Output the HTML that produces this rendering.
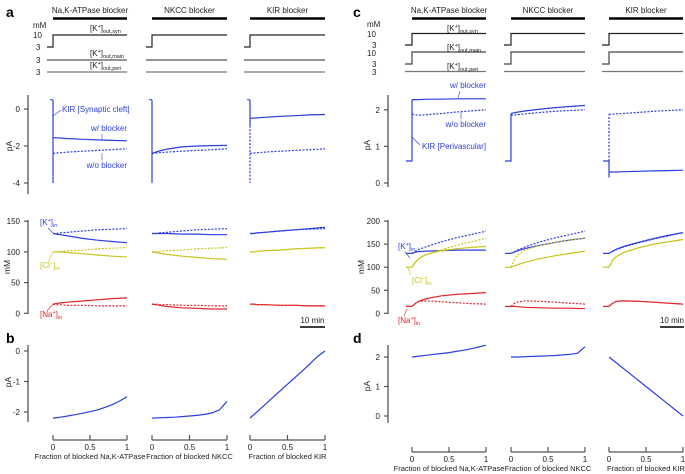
<!DOCTYPE html>
<html><head><meta charset="utf-8">
<style>
html,body{margin:0;padding:0;background:#fff;}
svg{display:block;font-family:"Liberation Sans",sans-serif;}
</style></head>
<body>
<svg id="fig" width="685" height="474" viewBox="0 0 685 474" xmlns="http://www.w3.org/2000/svg"></svg>
<script>
// ---------- data ----------
const timeFrac = [0,0.05,0.1,0.2,0.4,0.6,0.8,1];
const colTitles = ["Na,K-ATPase blocker","NKCC blocker","KIR blocker"];
const xTitles = ["Fraction of blocked Na,K-ATPase","Fraction of blocked NKCC","Fraction of blocked KIR"];
// panel a currents (pA)
const aCurSolid = [[-1.55,-1.56,-1.57,-1.6,-1.64,-1.67,-1.7,-1.72],[-2.4,-2.33,-2.27,-2.17,-2.05,-2.0,-1.98,-1.97],[-0.5,-0.49,-0.48,-0.45,-0.4,-0.36,-0.32,-0.3]];
const aCurDash = [[-2.4,-2.38,-2.36,-2.33,-2.28,-2.24,-2.2,-2.15],[-2.4,-2.38,-2.36,-2.33,-2.28,-2.24,-2.2,-2.15],[-2.4,-2.38,-2.36,-2.33,-2.28,-2.24,-2.2,-2.15]];
// panel c currents (pA)
const cCurSolid = [[2.28,2.28,2.28,2.29,2.29,2.3,2.3,2.3],[1.9,1.92,1.94,1.97,2.02,2.06,2.09,2.12],[0.3,0.3,0.3,0.31,0.32,0.33,0.34,0.35]];
const cCurDash = [[1.88,1.86,1.85,1.87,1.9,1.94,1.97,2.0],[1.85,1.86,1.87,1.89,1.93,1.96,1.98,2.0],[1.88,1.88,1.89,1.9,1.93,1.96,1.98,2.0]];
// panel a concentrations (mM)
const aKSolid = [[130,129,128,126,122,119,117,115],[130,130,130,130,129,129,128,128],[130,130,131,132,134,136,138,140]];
const aKDash = [[130,130,131,132,134,136,137,138],[130,130,131,132,134,136,137,138],[130,130,131,132,134,136,137,138]];
const aClSolid = [[100,100,100,99,97,95,93,92],[100,99,98,96,93,91,89,88],[100,100,101,102,103,105,106,107]];
const aClDash = [[100,100,101,102,103,105,106,107],[100,100,101,102,103,105,106,107],[100,100,101,102,103,105,106,107]];
const aNaSolid = [[15,16,17,18,20,22,24,25],[15,14,13,11,9,8,7,7],[15,15,14,14,13,13,12,12]];
const aNaDash = [[15,14,14,13,13,12,12,12],[15,15,14,14,13,13,12,12],[15,15,14,14,13,13,12,12]];
// panel c concentrations (mM)
const cKSolid = [[130,133,134,135,136,137,137,137],[130,133,136,141,148,154,159,163],[130,135,139,145,154,162,169,175]];
const cKDash = [[130,135,139,145,155,164,171,178],[130,134,138,145,155,164,171,178],[130,134,138,144,153,161,168,175]];
const cClSolid = [[100,112,120,128,136,140,143,145],[100,103,106,111,119,125,130,135],[100,115,123,132,142,150,155,160]];
const cClDash = [[100,112,120,128,138,147,155,163],[100,118,128,138,148,154,159,163],[100,115,123,132,142,150,155,160]];
const cNaSolid = [[15,22,27,32,38,41,43,45],[15,15,14,13,12,11,11,10],[15,22,26,27,26,24,22,20]];
const cNaDash = [[15,22,26,27,25,23,21,20],[15,22,25,27,26,24,22,20],[15,22,26,27,26,24,22,20]];
// panels b/d: current vs fraction blocked
const fracX = [0,0.1,0.2,0.3,0.4,0.5,0.6,0.7,0.8,0.9,1];
const bVals = [[-2.2,-2.17,-2.13,-2.09,-2.04,-1.99,-1.93,-1.85,-1.76,-1.64,-1.5],[-2.2,-2.19,-2.18,-2.17,-2.15,-2.13,-2.11,-2.08,-2.03,-1.93,-1.65],[-2.2,-1.98,-1.76,-1.53,-1.31,-1.09,-0.87,-0.65,-0.42,-0.18,0]];
const dVals = [[2.0,2.03,2.06,2.09,2.12,2.15,2.19,2.23,2.28,2.34,2.4],[2.0,2.0,2.01,2.02,2.03,2.04,2.05,2.07,2.09,2.13,2.35],[2.0,1.8,1.6,1.4,1.2,1.0,0.8,0.6,0.4,0.2,0]];
const aCurTicks = [0,-2,-4], cCurTicks=[0,1,2], aConcTicks=[0,50,100,150], cConcTicks=[0,50,100,150,200];
const bTicks=[0,-1,-2], dTicks=[0,1,2], fracTicks=[0,0.5,1];

// ---------- helpers ----------
const S = document.getElementById('fig');
const NS = "http://www.w3.org/2000/svg";
const BLUE="#2b3ee0", YEL="#c9c41c", RED="#e0262a", AX="#555";
function el(tag, attrs, parent){ const e=document.createElementNS(NS,tag); for(const k in attrs) e.setAttribute(k,attrs[k]); (parent||S).appendChild(e); return e; }
function line(x1,y1,x2,y2,c,w,name){ const e=el('line',{x1,y1,x2,y2,stroke:c,'stroke-width':w});

 return e; }
function poly(pts,c,dash,name,w){ const e=el('polyline',{points:pts.map(p=>p[0].toFixed(1)+','+p[1].toFixed(1)).join(' '),fill:'none',stroke:c,'stroke-width':w||1.2});
if(dash) e.setAttribute('stroke-dasharray','2,1.5');

 return e; }
function text(x,y,s,size,anchor,fill,name,extra){ const e=el('text',{x,y,'font-size':size,'text-anchor':anchor||'start',fill:fill||'#222'}); e.textContent=s;


if(extra) for(const k in extra) e.setAttribute(k,extra[k]); return e; }
function ionLabel(x,y,base,sup,fill,name){ const e=el('text',{x,y,'font-size':8,fill});


e.appendChild(document.createTextNode(base.split('|')[0]));
const t1=el('tspan',{'font-size':5.5,dy:-3},e); t1.textContent=sup;
const t2=el('tspan',{dy:3},e); t2.textContent=base.split('|')[1];
const t3=el('tspan',{'font-size':5.5,dy:2},e); t3.textContent='in';
return e; }
function kout(x,y,sub,name){ const e=el('text',{x,y,'font-size':8,fill:'#222'});


e.appendChild(document.createTextNode('[K'));
const a=el('tspan',{'font-size':5.5,dy:-3},e); a.textContent='+';
const b=el('tspan',{dy:3},e); b.textContent=']';
const c=el('tspan',{'font-size':5.5,dy:2},e); c.textContent=sub; return e; }
function yAxis(x,yTop,yBot,ticks,scale,name){ line(x,yTop,x,yBot,AX,1.3,name);
ticks.forEach(v=>{ const y=scale(v); line(x-4,y,x,y,AX,1.2,name+'-tick'); text(x-8,y+3,String(v),8,'end','#222',name+'-label'); }); }
function series(x0,x1,vals,sy,c,dash,name){ return poly(vals.map((v,i)=>[x0+timeFrac[i]*(x1-x0),sy(v)]),c,dash,name); }

// ---------- layout ----------
const aCols=[[53,127],[152,227],[250,325]];
const cCols=[[412,486],[511,585],[609,683]];
const aCurY=v=>109-(v)*18.5;
const cCurY=v=>183-v*36.6;
const aConcY=v=>313.3-v*0.614;
const cConcY=v=>313.3-v*0.461;
const bY=v=>351-v*30.5;
const dY=v=>416-v*29.5;

// panel letters
text(6,17,'a',14,'start','#000','panel-letter-a',{'font-weight':'bold'});
text(6,343,'b',14,'start','#000','panel-letter-b',{'font-weight':'bold'});
text(353,17,'c',14,'start','#000','panel-letter-c',{'font-weight':'bold'});
text(353,343,'d',14,'start','#000','panel-letter-d',{'font-weight':'bold'});

function headers(cols,pre){
cols.forEach((c,i)=>{ line(c[0],18.5,c[1],18.5,'#000',2.5,pre+'-header-bar-'+i);
text((c[0]+c[1])/2,13,colTitles[i],8,'middle','#222',pre+'-header-title-'+i); });
}
headers(aCols,'a'); headers(cCols,'c');

// panel a stimulus traces
text(33,28,'mM',8,'start','#222','a-stim-unit');
text(33,38,'10',8,'start','#222','a-stim-10');
text(36,50,'3',8,'start','#222','a-stim-3a');
text(36,63,'3',8,'start','#222','a-stim-3b');
text(36,75,'3',8,'start','#222','a-stim-3c');
aCols.forEach((c,i)=>{
 const x0=c[0]-(i==0?6:6);
 poly([[x0,47],[c[0],47],[c[0],35],[c[1],35]],'#222',false,'a-kout-syn-trace-'+i,1.2);
 line(i==0?47:x0,60,c[1],60,'#555',1.2,'a-kout-main-trace-'+i);
 line(i==0?47:x0,72,c[1],72,'#777',1.2,'a-kout-peri-trace-'+i);
});
kout(90,31,'out,syn','a-kout-syn-label');
kout(90,56,'out,main','a-kout-main-label');
kout(90,68,'out,peri','a-kout-peri-label');

// panel c stimulus traces
text(367,27,'mM',8,'start','#222','c-stim-unit');
text(367,37,'10',8,'start','#222','c-stim-10a');
text(372,48,'3',8,'start','#222','c-stim-3a');
text(367,56,'10',8,'start','#222','c-stim-10b');
text(372,67,'3',8,'start','#222','c-stim-3b');
text(372,75,'3',8,'start','#222','c-stim-3c');
cCols.forEach((c,i)=>{
 const x0=c[0]-7;
 poly([[x0,45],[c[0],45],[c[0],33.5],[c[1],33.5]],'#222',false,'c-kout-syn-trace-'+i,1.2);
 poly([[x0,64],[c[0],64],[c[0],52],[c[1],52]],'#444',false,'c-kout-main-trace-'+i,1.2);
 line(i==0?405:x0,71.5,c[1],71.5,'#777',1.2,'c-kout-peri-trace-'+i);
});
kout(447,31,'out,syn','c-kout-syn-label');
kout(447,50,'out,main','c-kout-main-label');
kout(447,69,'out,peri','c-kout-peri-label');

// ---------- panel a currents ----------
yAxis(28,95,194,aCurTicks,aCurY,'a-current-y-axis');
text(12,146,'pA',8.5,'middle','#222','a-current-y-title',{transform:'rotate(-90 12 146)'});
aCols.forEach((c,i)=>{
 line(c[0]-3,aCurY(0.5),c[0],aCurY(0.5),BLUE,1,'a-current-bracket-'+i);
 if(i<2){ line(c[0],aCurY(0.5),c[0],aCurY(-4),BLUE,1.2,'a-current-transient-'+i); }
 else { line(c[0],aCurY(0.5),c[0],aCurY(-0.9),BLUE,1.2,'a-current-transient-'+i);
        const d=line(c[0],aCurY(-0.9),c[0],aCurY(-4),BLUE,1.2,'a-current-transient-dashed'); d.setAttribute('stroke-dasharray','2,1.5'); }
 series(c[0],c[1],aCurSolid[i],aCurY,BLUE,false,'a-current-with-blocker-'+i);
 series(c[0],c[1],aCurDash[i],aCurY,BLUE,true,'a-current-without-blocker-'+i);
});
text(62,112,'KIR [Synaptic cleft]',8,'start',BLUE,'a-kir-label');
line(53,116,61,110,BLUE,0.6,'a-kir-leader');
text(127,131,'w/ blocker',8,'end',BLUE,'a-with-blocker-label');
line(102,134,102,140,BLUE,0.6,'a-with-leader');
text(127,168,'w/o blocker',8,'end',BLUE,'a-without-blocker-label');
line(102,153,102,160,BLUE,0.6,'a-without-leader');

// ---------- panel c currents ----------
yAxis(388,95,187,cCurTicks,cCurY,'c-current-y-axis');
text(370,145,'pA',8.5,'middle','#222','c-current-y-title',{transform:'rotate(-90 370 145)'});
cCols.forEach((c,i)=>{
 const pre=[[c[0]-6,cCurY(0.6)],[c[0],cCurY(0.6)]];
 if(i<2){
  poly(pre.concat([[c[0],cCurY(cCurSolid[i][0])]]),BLUE,false,'c-current-onset-'+i);
 } else {
  poly(pre.concat([[c[0],cCurY(0.15)],[c[0],cCurY(0.3)]]),BLUE,false,'c-current-onset-'+i);
  const d=line(c[0],cCurY(0.6),c[0],cCurY(cCurDash[i][0]),BLUE,1.2,'c-current-onset-dashed'); d.setAttribute('stroke-dasharray','2,1.5');
 }
 series(c[0],c[1],cCurSolid[i],cCurY,BLUE,false,'c-current-with-blocker-'+i);
 series(c[0],c[1],cCurDash[i],cCurY,BLUE,true,'c-current-without-blocker-'+i);
});
text(486,88,'w/ blocker',8,'end',BLUE,'c-with-blocker-label');
line(460,91,458,98,BLUE,0.6,'c-with-leader');
text(486,127,'w/o blocker',8,'end',BLUE,'c-without-blocker-label');
line(461,112,461,119,BLUE,0.6,'c-without-leader');
text(486,149,'KIR [Perivascular]',8,'end',BLUE,'c-kir-label');
line(412,137,420,145,BLUE,0.6,'c-kir-leader');

// ---------- panel a concentrations ----------
yAxis(28,220,314,aConcTicks,aConcY,'a-conc-y-axis');
text(10,267,'mM',8.5,'middle','#222','a-conc-y-title',{transform:'rotate(-90 10 267)'});
aCols.forEach((c,i)=>{
 series(c[0],c[1],aKSolid[i],aConcY,BLUE,false,'a-k-with-blocker-'+i);
 series(c[0],c[1],aKDash[i],aConcY,BLUE,true,'a-k-without-blocker-'+i);
 series(c[0],c[1],aClSolid[i],aConcY,YEL,false,'a-cl-with-blocker-'+i);
 series(c[0],c[1],aClDash[i],aConcY,YEL,true,'a-cl-without-blocker-'+i);
 series(c[0],c[1],aNaSolid[i],aConcY,RED,false,'a-na-with-blocker-'+i);
 series(c[0],c[1],aNaDash[i],aConcY,RED,true,'a-na-without-blocker-'+i);
});
ionLabel(40,225,'[K|]','+',BLUE,'a-k-label'); line(48,228,53,233,BLUE,0.6,'a-k-leader');
ionLabel(40,268,'[Cl|]','−',YEL,'a-cl-label'); line(48,262,53,252,YEL,0.6,'a-cl-leader');
ionLabel(40,317,'[Na|]','+',RED,'a-na-label'); line(47,311,53,304,RED,0.6,'a-na-leader');
line(300,327,325,327,'#222',1.8,'a-scale-bar');
text(312.5,323,'10 min',8,'middle','#222','a-scale-label');

// ---------- panel c concentrations ----------
yAxis(388,220,314,cConcTicks,cConcY,'c-conc-y-axis');
text(364,267,'mM',8.5,'middle','#222','c-conc-y-title',{transform:'rotate(-90 364 267)'});
cCols.forEach((c,i)=>{
 series(c[0],c[1],cKSolid[i],cConcY,BLUE,false,'c-k-with-blocker-'+i);
 series(c[0],c[1],cKDash[i],cConcY,BLUE,true,'c-k-without-blocker-'+i);
 series(c[0],c[1],cClSolid[i],cConcY,YEL,false,'c-cl-with-blocker-'+i);
 series(c[0],c[1],cClDash[i],cConcY,YEL,true,'c-cl-without-blocker-'+i);
 series(c[0],c[1],cNaSolid[i],cConcY,RED,false,'c-na-with-blocker-'+i);
 series(c[0],c[1],cNaDash[i],cConcY,RED,true,'c-na-without-blocker-'+i);
 // flat pre-segments
 line(c[0]-6,cConcY(130),c[0],cConcY(130),BLUE,1.2,'c-k-baseline-'+i);
 line(c[0]-6,cConcY(100),c[0],cConcY(100),YEL,1.2,'c-cl-baseline-'+i);
 line(c[0]-6,cConcY(15),c[0],cConcY(15),RED,1.2,'c-na-baseline-'+i);
});
ionLabel(398,249,'[K|]','+',BLUE,'c-k-label'); line(405,252,410,258,BLUE,0.6,'c-k-leader');
ionLabel(412,283,'[Cl|]','−',YEL,'c-cl-label'); line(411,275,408,268,YEL,0.6,'c-cl-leader');
ionLabel(398,323,'[Na|]','+',RED,'c-na-label'); line(404,316,407,309,RED,0.6,'c-na-leader');
line(660,327,684,327,'#222',1.8,'c-scale-bar');
text(672,323,'10 min',8,'middle','#222','c-scale-label');

// ---------- panels b & d ----------
yAxis(28,345,422,bTicks,bY,'b-y-axis');
text(11,382,'pA',8.5,'middle','#222','b-y-title',{transform:'rotate(-90 11 382)'});
yAxis(388,345,423,dTicks,dY,'d-y-axis');
text(370,386,'pA',8.5,'middle','#222','d-y-title',{transform:'rotate(-90 370 386)'});
function fracPanel(cols,vals,sy,axY,pre){
 cols.forEach((c,i)=>{
  const sx=f=>c[0]+f*(c[1]-c[0]);
  poly(fracX.map((f,j)=>[sx(f),sy(vals[i][j])]),BLUE,false,pre+'-curve-'+i);
  line(c[0],axY,c[1],axY,AX,1.3,pre+'-x-axis-'+i);
  fracTicks.forEach(f=>{ line(sx(f),axY-5,sx(f),axY,AX,1.2,pre+'-x-tick');
   text(sx(f),axY+10,String(f),8,'middle','#222',pre+'-x-tick-label'); });
  text((c[0]+c[1])/2,axY+19,xTitles[i],7.5,'middle','#222',pre+'-x-title-'+i);
 });
}
fracPanel(aCols,bVals,bY,440,'b');
fracPanel(cCols,dVals,dY,452,'d');
</script>
</body></html>
